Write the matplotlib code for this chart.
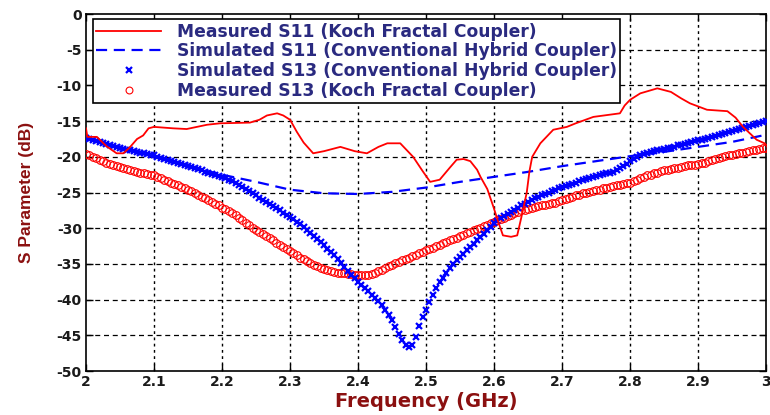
import numpy as np
import matplotlib
matplotlib.use("Agg")
import matplotlib.pyplot as plt

plt.rcParams['font.family'] = ['Liberation Sans', 'DejaVu Sans']
plt.rcParams['axes.unicode_minus'] = False

# Measured S11 (Koch fractal coupler)
f_s11_meas = [2.000, 2.002, 2.016, 2.030, 2.045, 2.055, 2.065, 2.075, 2.084, 2.092, 2.100,
              2.128, 2.148, 2.178, 2.197, 2.241, 2.255, 2.266, 2.281, 2.290, 2.300, 2.310,
              2.320, 2.334, 2.350, 2.374, 2.395, 2.413, 2.430, 2.443, 2.462, 2.471, 2.481,
              2.495, 2.506, 2.520, 2.535, 2.545, 2.555, 2.565, 2.575, 2.580, 2.590, 2.599,
              2.604, 2.613, 2.625, 2.634, 2.640, 2.648, 2.652, 2.656, 2.668, 2.687, 2.707,
              2.720, 2.746, 2.785, 2.792, 2.800, 2.815, 2.840, 2.860, 2.875, 2.888, 2.913,
              2.943, 2.955, 2.966, 2.986, 3.000]
s11_meas = [-16.0, -17.2, -17.2, -18.5, -19.5, -19.5, -18.6, -17.5, -17.0, -16.0, -15.8,
            -16.0, -16.1, -15.5, -15.3, -15.2, -14.8, -14.2, -13.9, -14.2, -14.8, -16.5,
            -18.0, -19.5, -19.2, -18.6, -19.2, -19.5, -18.6, -18.1, -18.1, -19.0, -20.0,
            -22.0, -23.5, -23.2, -21.5, -20.4, -20.3, -20.6, -21.8, -22.8, -24.5, -27.0,
            -28.5, -31.0, -31.2, -31.0, -28.5, -25.0, -22.0, -20.0, -18.1, -16.2, -15.8,
            -15.3, -14.4, -13.9, -12.8, -12.0, -11.1, -10.4, -10.9, -11.8, -12.5, -13.4,
            -13.6, -14.5, -15.8, -17.6, -18.2]

# Simulated S11 (conventional hybrid coupler)
f_s11_sim = [2.00, 2.05, 2.10, 2.15, 2.20, 2.25, 2.30, 2.35, 2.40, 2.45, 2.50,
             2.55, 2.60, 2.65, 2.70, 2.75, 2.80, 2.85, 2.90, 2.95, 3.00]
s11_sim = [-17.3, -18.6, -20.0, -21.3, -22.5, -23.5, -24.6, -25.1, -25.2, -24.9, -24.3,
           -23.5, -22.8, -22.1, -21.3, -20.6, -19.9, -19.3, -18.6, -17.9, -16.9]

# frequency grid of the two marker traces (0.005 GHz step)
f_s13 = np.round(np.linspace(2.0, 3.0, 201), 3)

# Simulated S13 (conventional hybrid coupler)
s13_sim = [-17.3, -17.45, -17.6, -17.75, -17.9, -18.05, -18.2, -18.35, -18.5, -18.65,
           -18.8, -18.9, -19.0, -19.1, -19.2, -19.3, -19.4, -19.5, -19.6, -19.7,
           -19.8, -19.95, -20.1, -20.25, -20.4, -20.55, -20.7, -20.85, -21.0, -21.15,
           -21.3, -21.45, -21.6, -21.75, -21.9, -22.05, -22.2, -22.35, -22.5, -22.65,
           -22.8, -23.0, -23.2, -23.45, -23.7, -23.95, -24.2, -24.5, -24.8, -25.1,
           -25.4, -25.7, -26.0, -26.3, -26.6, -26.9, -27.2, -27.5, -27.8, -28.1,
           -28.4, -28.75, -29.1, -29.45, -29.8, -30.2, -30.6, -31.05, -31.5, -31.95,
           -32.4, -32.85, -33.3, -33.8, -34.3, -34.85, -35.4, -35.95, -36.5, -37.0,
           -37.5, -37.95, -38.4, -38.85, -39.3, -39.75, -40.2, -40.8, -41.4, -42.1,
           -42.9, -43.8, -44.8, -45.6, -46.3, -46.6, -46.3, -45.2, -43.7, -42.5,
           -41.4, -40.3, -39.3, -38.4, -37.6, -36.9, -36.2, -35.6, -35.0, -34.5,
           -34.0, -33.55, -33.1, -32.65, -32.2, -31.7, -31.2, -30.75, -30.3, -29.8,
           -29.3, -28.95, -28.6, -28.3, -28.0, -27.7, -27.4, -27.1, -26.8, -26.55,
           -26.3, -26.05, -25.8, -25.6, -25.4, -25.2, -25.0, -24.8, -24.6, -24.4,
           -24.2, -24.05, -23.9, -23.75, -23.6, -23.45, -23.3, -23.15, -23.0, -22.85,
           -22.7, -22.55, -22.4, -22.3, -22.2, -22.05, -21.9, -21.6, -21.3, -20.95,
           -20.6, -20.3, -20.0, -19.8, -19.6, -19.45, -19.3, -19.2, -19.1, -19.0,
           -18.9, -18.8, -18.7, -18.55, -18.4, -18.3, -18.2, -18.05, -17.9, -17.8,
           -17.7, -17.6, -17.5, -17.35, -17.2, -17.1, -17.0, -16.85, -16.7, -16.55,
           -16.4, -16.25, -16.1, -15.95, -15.8, -15.65, -15.5, -15.35, -15.2, -15.1,
           -15.0]

# Measured S13 (Koch fractal coupler)
s13_meas = [-19.6, -19.8, -20.0, -20.2, -20.4, -20.6, -20.8, -21.0, -21.1, -21.3,
            -21.4, -21.6, -21.7, -21.8, -22.0, -22.1, -22.2, -22.3, -22.4, -22.5,
            -22.6, -22.8, -23.0, -23.2, -23.4, -23.6, -23.8, -24.0, -24.2, -24.4,
            -24.6, -24.8, -25.1, -25.3, -25.6, -25.8, -26.1, -26.3, -26.6, -26.8,
            -27.1, -27.3, -27.6, -27.9, -28.2, -28.5, -28.9, -29.3, -29.6, -29.9,
            -30.2, -30.5, -30.8, -31.1, -31.4, -31.7, -32.0, -32.3, -32.6, -32.9,
            -33.2, -33.5, -33.8, -34.1, -34.3, -34.6, -34.8, -35.1, -35.3, -35.5,
            -35.7, -35.9, -36.0, -36.1, -36.2, -36.3, -36.3, -36.4, -36.4, -36.5,
            -36.5, -36.6, -36.6, -36.5, -36.4, -36.2, -36.0, -35.8, -35.6, -35.3,
            -35.1, -34.9, -34.7, -34.5, -34.3, -34.1, -33.9, -33.7, -33.5, -33.3,
            -33.1, -32.9, -32.7, -32.5, -32.3, -32.1, -31.9, -31.7, -31.5, -31.3,
            -31.1, -30.9, -30.7, -30.5, -30.3, -30.1, -29.9, -29.7, -29.5, -29.3,
            -29.1, -28.9, -28.7, -28.5, -28.3, -28.1, -27.9, -27.7, -27.5, -27.4,
            -27.3, -27.1, -27.0, -26.9, -26.8, -26.7, -26.6, -26.5, -26.4, -26.2,
            -26.1, -25.9, -25.7, -25.6, -25.4, -25.3, -25.1, -25.0, -24.9, -24.8,
            -24.7, -24.6, -24.4, -24.3, -24.2, -24.1, -24.0, -23.9, -23.8, -23.7,
            -23.6, -23.4, -23.2, -23.0, -22.8, -22.6, -22.5, -22.3, -22.2, -22.0,
            -21.9, -21.8, -21.7, -21.6, -21.5, -21.4, -21.3, -21.2, -21.1, -21.1,
            -21.0, -20.9, -20.8, -20.6, -20.5, -20.3, -20.2, -20.0, -19.9, -19.8,
            -19.7, -19.6, -19.5, -19.4, -19.3, -19.2, -19.1, -19.0, -18.9, -18.8,
            -18.7]

labels = ["Measured S11 (Koch Fractal Coupler)",
          "Simulated S11 (Conventional Hybrid Coupler)",
          "Simulated S13 (Conventional Hybrid Coupler)",
          "Measured S13 (Koch Fractal Coupler)"]

x_ticks = [2.0, 2.1, 2.2, 2.3, 2.4, 2.5, 2.6, 2.7, 2.8, 2.9, 3.0]
x_tick_labels = ["2", "2.1", "2.2", "2.3", "2.4", "2.5", "2.6", "2.7", "2.8", "2.9", "3"]
y_ticks = [0, -5, -10, -15, -20, -25, -30, -35, -40, -45, -50]

fig = plt.figure(figsize=(7.7, 4.15), dpi=100)
ax = fig.add_axes([0.1117, 0.106, 0.8833, 0.86])

ax.plot(f_s13, s13_meas, linestyle='none', marker='o', markersize=5.5,
        markerfacecolor='none', markeredgecolor='#ff0000', markeredgewidth=0.8,
        label=labels[3], zorder=3)
ax.plot(f_s13, s13_sim, linestyle='none', marker='x', markersize=4.2,
        color='#0000ff', markeredgewidth=1.6, label=labels[2], zorder=4)
ax.plot(f_s11_sim, s11_sim, linestyle=(0, (5, 3)), color='#0000ff', linewidth=1.6,
        label=labels[1], zorder=4)
ax.plot(f_s11_meas, s11_meas, linestyle='-', color='#ff0000', linewidth=1.3,
        label=labels[0], zorder=5)

ax.set_xlim(2.0, 3.0)
ax.set_ylim(-50, 0)
ax.set_xticks(x_ticks)
ax.set_xticklabels(x_tick_labels)
ax.set_yticks(y_ticks)
ax.tick_params(direction='in', length=5, width=1, pad=3, top=True, right=True)
for lbl in ax.get_xticklabels() + ax.get_yticklabels():
    lbl.set_fontweight('bold')
    lbl.set_family('DejaVu Sans')
    lbl.set_fontsize(10.0)
    lbl.set_color('#1a1a1a')

for y in y_ticks[1:-1]:
    ax.axhline(y, color='black', linestyle=(0, (4, 3)), linewidth=0.9, zorder=1)
for x in x_ticks[1:-1]:
    ax.axvline(x, color='black', linestyle=(0, (2, 2.5)), linewidth=1.0, zorder=1)

for s in ax.spines.values():
    s.set_linewidth(1.2)

ax.set_xlabel("Frequency (GHz)", fontsize=14, fontweight='bold', color='#8b1010',
              family='DejaVu Sans', labelpad=2)
ax.set_ylabel("S Parameter (dB)", fontsize=12.5, fontweight='bold', color='#8b1010', labelpad=16)

handles, lbls = ax.get_legend_handles_labels()
order = [3, 2, 1, 0]
leg = ax.legend([handles[i] for i in order], [lbls[i] for i in order],
                loc='upper left', bbox_to_anchor=(0.0103, 0.986),
                prop={'family': 'DejaVu Sans', 'weight': 'bold', 'size': 12.3},
                frameon=True, fancybox=False, framealpha=1, edgecolor='black',
                borderpad=0.2, labelspacing=0.1, handlelength=3.8, handletextpad=0.9,
                borderaxespad=0, markerscale=0.9)
leg.get_frame().set_linewidth(1.2)
for t in leg.get_texts():
    t.set_color('#2a2a80')

fig.savefig("out.png", dpi=100)
